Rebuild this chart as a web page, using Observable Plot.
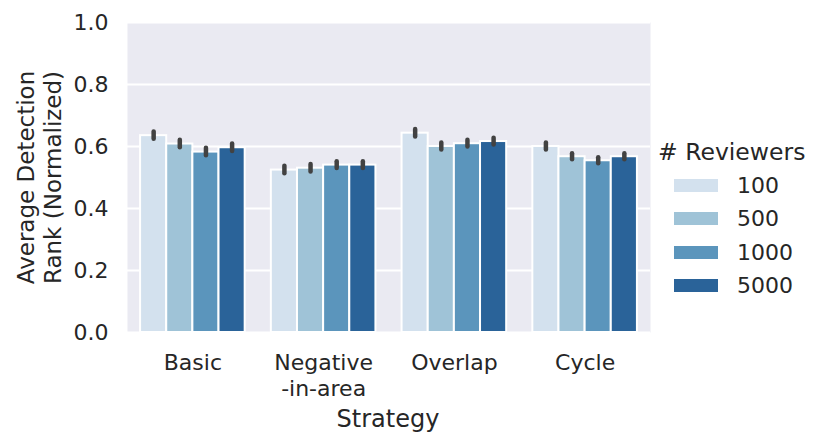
<!DOCTYPE html>
<html>
<head>
<meta charset="utf-8">
<script src="https://cdn.jsdelivr.net/npm/d3@7"></script>
<script src="https://cdn.jsdelivr.net/npm/@observablehq/plot@0.6"></script>
<style>
  html, body { margin: 0; padding: 0; background: #fff; }
  #wrap { position: relative; width: 831px; height: 442px; font-family: "DejaVu Sans", sans-serif; color: #262626; }
  #legend { position: absolute; left: 658px; top: 137px; }
  #legend .title { font-size: 23.5px; line-height: 30px; margin-bottom: 2px; }
  #legend .item { display: flex; align-items: center; height: 33.3px; margin-left: 16px; }
  #legend .sw { width: 44px; height: 13px; margin-right: 19px; }
  #legend .lab { font-size: 22px; }
</style>
</head>
<body>
<div id="wrap"><div id="chart"></div><div id="legend"></div></div>
<script>
const strategies = ["Basic", "Negative\n-in-area", "Overlap", "Cycle"];
const reviewers = ["100", "500", "1000", "5000"];
const r100  = [0.635, 0.524, 0.643, 0.600];
const r500  = [0.608, 0.530, 0.600, 0.567];
const r1000 = [0.582, 0.540, 0.609, 0.554];
const r5000 = [0.596, 0.540, 0.616, 0.567];
const e100  = [0.012, 0.012, 0.012, 0.011];
const e500  = [0.012, 0.012, 0.011, 0.010];
const e1000 = [0.012, 0.011, 0.011, 0.010];
const e5000 = [0.012, 0.011, 0.011, 0.010];
const yTicks = [0, 0.2, 0.4, 0.6, 0.8, 1.0];
const colors = ["#d3e1ee", "#9fc3d7", "#5b95bc", "#2a6399"];

const series = [r100, r500, r1000, r5000];
const errs = [e100, e500, e1000, e5000];
const rows = strategies.flatMap((s, i) => reviewers.map((r, j) => ({i, j, r, v: series[j][i], e: errs[j][i]})));

const chart = Plot.plot({
  width: 831,
  height: 442,
  marginLeft: 127,
  marginRight: 181,
  marginTop: 22,
  marginBottom: 110,
  style: {fontFamily: "DejaVu Sans", color: "#262626", background: "transparent"},
  x: {type: "linear", domain: [-0.5, 3.5]},
  y: {domain: [0, 1]},
  color: {domain: reviewers, range: colors},
  marks: [
    Plot.frame({fill: "#eaeaf2", stroke: null}),
    Plot.gridY(yTicks, {stroke: "white", strokeOpacity: 1, strokeWidth: 2}),
    Plot.rectY(rows, {
      x1: d => d.i - 0.4 + d.j * 0.2,
      x2: d => d.i - 0.2 + d.j * 0.2,
      y1: 0, y2: "v", fill: "r", stroke: "white", strokeWidth: 2
    }),
    Plot.ruleX(rows, {
      x: d => d.i - 0.3 + d.j * 0.2,
      y1: d => d.v - d.e, y2: d => d.v + d.e,
      stroke: "#424242", strokeWidth: 4.5, strokeLinecap: "round"
    }),
    Plot.axisY(yTicks, {tickSize: 0, tickPadding: 19, fontSize: 22, tickFormat: d3.format(".1f"), label: null}),
    Plot.axisX([0, 1, 2, 3], {tickSize: 0, tickPadding: 20, fontSize: 22, lineHeight: 1.15, tickFormat: i => strategies[i], label: null}),
    Plot.text(["Average Detection\nRank (Normalized)"], {frameAnchor: "left", rotate: -90, dx: -88.5, textAnchor: "middle", lineAnchor: "middle", lineHeight: 1.17, fontSize: 23, fill: "#262626"}),
    Plot.text(["Strategy"], {frameAnchor: "bottom", dy: 86.6, dx: -1, textAnchor: "middle", lineAnchor: "middle", fontSize: 24, fill: "#262626"})
  ]
});
document.getElementById("chart").appendChild(chart);

const legend = document.getElementById("legend");
const t = document.createElement("div");
t.className = "title"; t.textContent = "# Reviewers";
legend.appendChild(t);
reviewers.forEach((r, j) => {
  const it = document.createElement("div"); it.className = "item";
  const sw = document.createElement("div"); sw.className = "sw"; sw.style.background = colors[j];
  const lb = document.createElement("div"); lb.className = "lab"; lb.textContent = r;
  it.appendChild(sw); it.appendChild(lb); legend.appendChild(it);
});
</script>
</body>
</html>
